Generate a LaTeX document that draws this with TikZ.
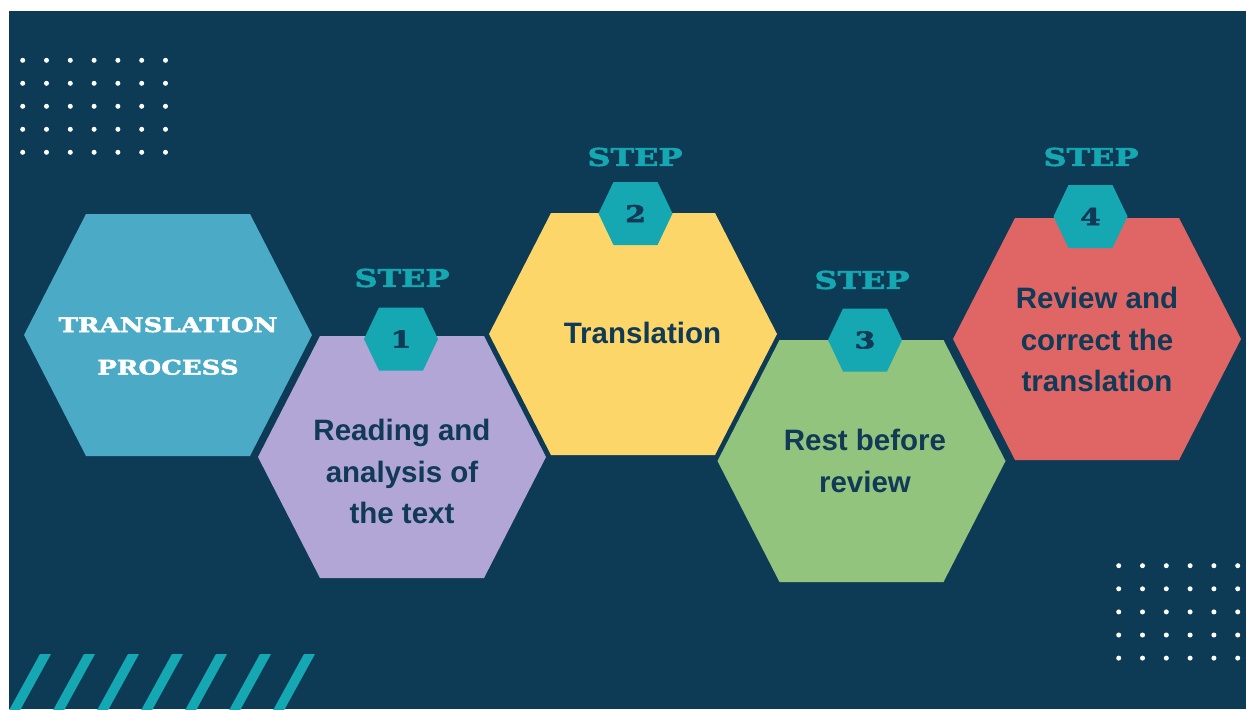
\documentclass[tikz,border=0pt]{standalone}
\usepackage{fontspec}
\setmainfont{Liberation Sans}
\newfontfamily\slabfont[UprightFont={* Bold}, FakeStretch=1.3, FakeBold=2.5]{DejaVu Serif}
\definecolor{bgnavy}{RGB}{13,59,86}
\definecolor{txtnavy}{RGB}{16,58,86}
\definecolor{tealc}{RGB}{21,168,178}
\definecolor{hexblue}{RGB}{75,170,198}
\definecolor{hexpurple}{RGB}{178,166,214}
\definecolor{hexyellow}{RGB}{252,214,104}
\definecolor{hexgreen}{RGB}{147,196,125}
\definecolor{hexred}{RGB}{224,102,102}
\newcommand\bighex[4]{%
  \fill[#4] (#2-144,#3) -- (#2-82,#3-121) -- (#2+82,#3-121) -- (#2+144,#3) -- (#2+82,#3+121) -- (#2-82,#3+121) -- cycle;
  \coordinate (#1) at (#2,#3);}
\newcommand\badgehex[3]{%
  \fill[tealc] (#2-37,#3) -- (#2-22,#3-31.5) -- (#2+22,#3-31.5) -- (#2+37,#3) -- (#2+22,#3+31.5) -- (#2-22,#3+31.5) -- cycle;
  \coordinate (#1) at (#2,#3);}
\tikzset{
  bodytxt/.style={text=txtnavy, align=center, font=\fontsize{29.5}{41.5}\selectfont\bfseries, inner sep=0pt},
  titletxt/.style={text=white, align=center, font=\slabfont\fontsize{20}{42.5}\selectfont, inner sep=0pt},
  steptxt/.style={text=tealc, font=\slabfont\fontsize{24.5}{24}\selectfont, inner sep=0pt},
  numtxt/.style={text=txtnavy, font=\slabfont\fontsize{23}{23}\selectfont, inner sep=0pt},
}
\begin{document}
\begin{tikzpicture}[x=1pt,y=-1pt]
\useasboundingbox (0,0) rectangle (1246,709);
\fill[white] (0,0) rectangle (1246,709);
\fill[bgnavy] (9,11) rectangle (1246,709);
% dots
\foreach \i in {0,...,6}{\foreach \j in {0,...,4}{\fill[white] (22.7+23.8*\i,60.3+23*\j) circle (2.5);}}
\foreach \i in {0,...,5}{\foreach \j in {0,...,4}{\fill[white] (1118.7+23.8*\i,565.7+23.1*\j) circle (2.5);}}
% stripes
\begin{scope}
\clip (9,11) rectangle (1246,709);
\foreach \k in {0,...,6}{\fill[tealc] (40+44*\k,654) -- ++(11,0) -- ++(-33,60) -- ++(-11,0) -- cycle;}
\end{scope}
% hexagons
\bighex{h0}{168}{335}{hexblue}
\bighex{h1}{402}{457}{hexpurple}
\bighex{h2}{633}{334}{hexyellow}
\bighex{h3}{861.5}{461}{hexgreen}
\bighex{h4}{1097}{339}{hexred}
% badges
\badgehex{b1}{401}{339}
\badgehex{b2}{635.5}{213.5}
\badgehex{b3}{865}{340}
\badgehex{b4}{1090.5}{216.5}
% texts
\node[titletxt] (t0) at (168,346) {TRANSLATION\\PROCESS};
\node[bodytxt] (t1) at (402,471.5) {Reading and\\analysis of\\the text};
\node[bodytxt] (t2) at (642.5,333) {Translation};
\node[bodytxt] (t3) at (865,461) {Rest before\\review};
\node[bodytxt] (t4) at (1097,339.5) {Review and\\correct the\\translation};
\node[steptxt] (s1) at (402,278) {STEP};
\node[steptxt] (s2) at (635,157) {STEP};
\node[steptxt] (s3) at (862,280) {STEP};
\node[steptxt] (s4) at (1091,157) {STEP};
\node[numtxt] (n1) at (b1) {1};
\node[numtxt] (n2) at (b2) {2};
\node[numtxt] (n3) at (b3) {3};
\node[numtxt] (n4) at (b4) {4};
\end{tikzpicture}
\end{document}
